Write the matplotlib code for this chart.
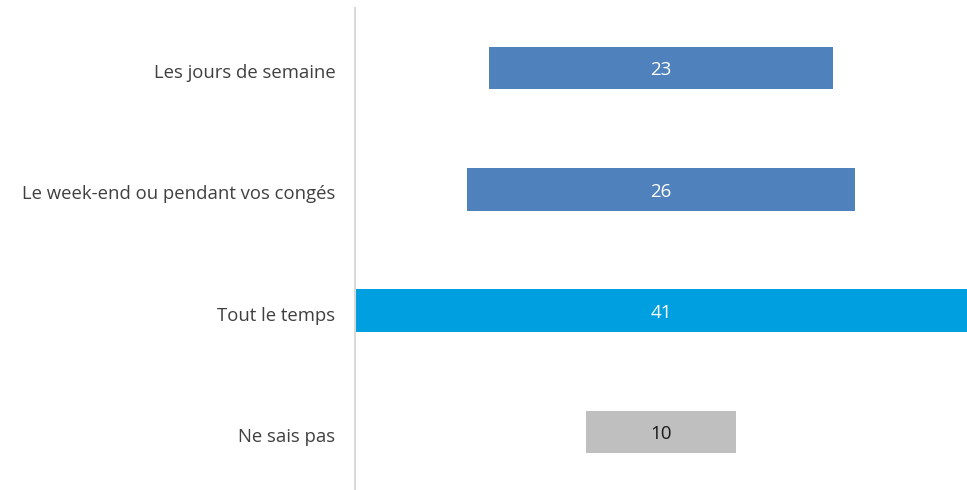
import matplotlib.pyplot as plt
import matplotlib.transforms as mtransforms

categories = ["Les jours de semaine", "Le week-end ou pendant vos congés", "Tout le temps", "Ne sais pas"]
values = [23, 26, 41, 10]
colors = ["#4F81BD", "#4F81BD", "#009FDF", "#BFBFBF"]
text_colors = ["white", "white", "white", "#1a1a1a"]

plt.rcParams['font.family'] = ['Open Sans', 'DejaVu Sans']

fig = plt.figure(figsize=(9.67, 4.9), dpi=100)
ax = fig.add_axes([355 / 967, 0, 612 / 967, 482 / 490])

ypos = [3 - i for i in range(len(values))]
lefts = [-v / 2 for v in values]
ax.barh(ypos, values, left=lefts, height=0.35, color=colors)

for y, v, tc in zip(ypos, values, text_colors):
    ax.text(0, y - 0.02, str(v), ha='center', va='center', color=tc, fontsize=13.5)

ax.set_xlim(-20.5, 20.5)
ax.set_ylim(-0.478, 3.495)
ax.set_yticks(ypos)
ax.set_yticklabels(categories, fontsize=13.3, color='#404040')
ax.tick_params(axis='y', length=0, pad=14)
# nudge category labels down a little
shift = mtransforms.ScaledTranslation(0, -3 / 100, fig.dpi_scale_trans)
for lbl in ax.get_yticklabels():
    lbl.set_transform(lbl.get_transform() + shift)
ax.set_xticks([])
for side in ['top', 'right', 'bottom']:
    ax.spines[side].set_visible(False)
ax.spines['left'].set_color('#D9D9D9')
ax.spines['left'].set_linewidth(1.5)

fig.savefig('out.png', dpi=100)
